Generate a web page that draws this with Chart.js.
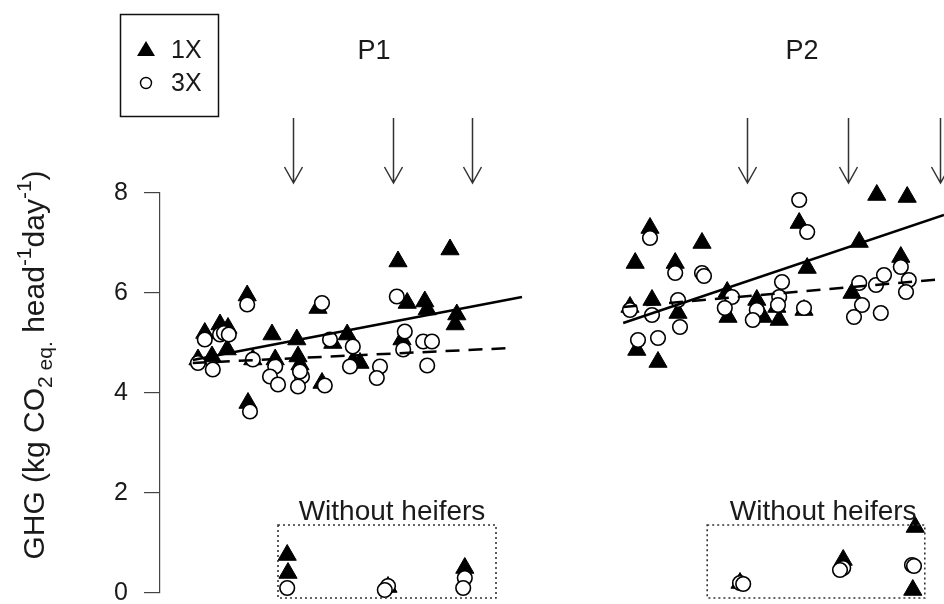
<!DOCTYPE html>
<html>
<head>
<meta charset="utf-8">
<script src="https://cdn.jsdelivr.net/npm/chart.js@4/dist/chart.umd.min.js"></script>
<style>
  html, body { margin: 0; padding: 0; background: #fff; }
  canvas { display: block; }
</style>
</head>
<body>
<canvas id="c" width="944" height="604"></canvas>
<script>
// Days on the x axis, GHG (kg CO2 eq. per head per day) on the y axis
const yTicks = [0, 2, 4, 6, 8];

// Milking once a day (1X) – filled triangles
const oneX_day = [11.2, 15, 17, 21.8, 16.8, 13, 9.5, 22, 28, 23.2, 28.8, 34.2, 34.5, 35, 40.5, 39.5, 43.2, 46.8, 48.2, 50,
                  59.5, 61.8, 60.5, 66.2, 66.8, 72.5, 74.2, 73.8,
                  122.5, 135.5, 118.8, 128.8, 123, 117.5, 129.5, 119.2, 124.5, 142, 141.8, 149.2, 150.8, 154.2, 154.8,
                  159.8, 161.8, 161, 173, 174.8, 181, 179.2, 186.8, 185.2];
const oneX_ghg = [5.2, 5.37, 5.3, 5.95, 4.87, 4.73, 4.67, 3.8, 5.17, 4.67, 4.67, 5.07, 4.73, 4.57, 4.2, 5.7, 5.0, 5.17, 4.63, 4.6,
                  6.63, 5.8, 5.07, 5.83, 5.67, 6.87, 5.57, 5.37,
                  7.3, 7.0, 6.6, 6.6, 5.86, 5.72, 5.6, 4.86, 4.62, 5.52, 6.02, 5.86, 5.52, 5.72, 5.46,
                  7.4, 6.5, 5.66, 6.0, 7.02, 8.36, 7.96, 7.92, 6.72];

// Milking three times a day (3X) – open circles
const threeX_day = [11.2, 9.5, 13.2, 15, 16, 17.2, 21.8, 22.5, 23.2, 28.8, 27.5, 29.5, 35.5, 34.5, 35, 40.5, 41.2, 42.5,
                    48.2, 47.5, 55, 54.2, 61.2, 59.2, 60.8, 65.8, 68, 66.8,
                    122.5, 128.8, 135.5, 136, 123, 117.5, 129.5, 130, 119.5, 124.5, 143, 141.2, 149.2, 148.2, 155.5,
                    154.8, 154.5, 161, 159.8, 161.8, 174.8, 175.5, 173.5, 180.2, 179, 181, 185.2, 187.2, 186.5];
const threeX_ghg = [5.07, 4.6, 4.47, 5.17, 5.2, 5.17, 5.77, 3.63, 4.67, 4.53, 4.33, 4.17, 4.33, 4.13, 4.43, 5.8, 4.15, 5.07,
                    4.93, 4.53, 4.53, 4.3, 5.23, 5.93, 4.87, 5.03, 5.03, 4.55,
                    7.1, 6.4, 6.4, 6.34, 5.56, 5.66, 5.86, 5.32, 5.06, 5.1, 5.92, 5.7, 5.66, 5.46, 6.22,
                    5.92, 5.76, 5.7, 7.86, 7.22, 6.2, 5.76, 5.52, 5.6, 6.16, 6.36, 6.52, 6.26, 6.02];

// Emissions without heifers
const noHeifer1X_day = [31.8, 32, 57, 76.2, 145, 170.8, 188.8, 188.2];
const noHeifer1X_ghg = [0.76, 0.4, 0.12, 0.5, 0.2, 0.66, 1.32, 0.06];
const noHeifer3X_day = [31.8, 57, 56.2, 76.2, 75.8, 145, 145.8, 170.8, 170, 188, 188.5];
const noHeifer3X_ghg = [0.1, 0.14, 0.06, 0.3, 0.1, 0.2, 0.18, 0.5, 0.46, 0.56, 0.54];

// Fitted trends per period: [start day, end day], [start GHG, end GHG]
const trendDays  = { P1: [8.2, 90.5], P2: [115.8, 196] };
const trend1X    = { P1: [4.66, 5.92], P2: [5.4, 7.56] };
const trend3X    = { P1: [4.6, 4.9],   P2: [5.72, 6.28] };
const trend3XDays = { P1: [8.2, 87.5], P2: [115.8, 196] };

// Period names and marker arrows
const periodNames = ['P1', 'P2'];
const periodLabelDay = [53.5, 160.5];
const arrowDays = [33.2, 58.2, 78, 146.8, 172, 195];
const heiferBoxDays = [[29.5, 84], [136.8, 191.2]];
const heiferLabelDay = [58, 165.8];
const heiferLabel = 'Without heifers';

const pts = (xs, ys) => xs.map((x, i) => ({ x, y: ys[i] }));
const seg = (xs, ys) => [{ x: xs[0], y: ys[0] }, { x: xs[1], y: ys[1] }];

const FONT = '"Liberation Sans", Arial, sans-serif';
const INK = '#1a1a1a';

const tri = { type: 'scatter', pointStyle: 'triangle', pointRadius: 10.5, backgroundColor: '#000', borderColor: '#000', borderWidth: 1, clip: false, order: 3 };
const circ = { type: 'scatter', pointStyle: 'circle', pointRadius: 7.3, backgroundColor: '#fff', borderColor: '#000', borderWidth: 1.6, clip: false, order: 2 };
const solid = { type: 'line', borderColor: '#000', borderWidth: 2.5, pointRadius: 0, fill: false, clip: false, order: 1 };
const dashed = Object.assign({}, solid, { borderDash: [14, 9] });

const datasets = [
  Object.assign({ label: '1X', data: pts(oneX_day, oneX_ghg) }, tri),
  Object.assign({ label: '1X without heifers', data: pts(noHeifer1X_day, noHeifer1X_ghg) }, tri),
  Object.assign({ label: '3X', data: pts(threeX_day, threeX_ghg) }, circ),
  Object.assign({ label: '3X without heifers', data: pts(noHeifer3X_day, noHeifer3X_ghg) }, circ),
];
periodNames.forEach(p => {
  datasets.push(Object.assign({ label: '1X trend ' + p, data: seg(trendDays[p], trend1X[p]) }, solid));
  datasets.push(Object.assign({ label: '3X trend ' + p, data: seg(trend3XDays[p], trend3X[p]) }, dashed));
});

const decorations = {
  id: 'decorations',
  afterDraw(chart) {
    const { ctx, scales: { x, y } } = chart;
    ctx.save();

    // arrows above each period
    ctx.strokeStyle = '#333';
    ctx.lineWidth = 1.5;
    const aTop = y.getPixelForValue(9.5), aBot = y.getPixelForValue(8.2);
    arrowDays.forEach(d => {
      const px = Math.round(x.getPixelForValue(d)) + 0.5;
      ctx.beginPath();
      ctx.moveTo(px, aTop); ctx.lineTo(px, aBot);
      ctx.moveTo(px - 9, aBot - 16); ctx.lineTo(px, aBot); ctx.lineTo(px + 9, aBot - 16);
      ctx.stroke();
    });

    // period names
    ctx.fillStyle = INK;
    ctx.font = '27px ' + FONT;
    ctx.textAlign = 'center';
    ctx.textBaseline = 'middle';
    periodNames.forEach((p, i) => ctx.fillText(p, x.getPixelForValue(periodLabelDay[i]), y.getPixelForValue(10.82)));

    // dotted boxes around the "without heifers" values
    ctx.strokeStyle = '#333';
    ctx.lineWidth = 1.6;
    ctx.setLineDash([2, 3]);
    heiferBoxDays.forEach(([a, b]) => {
      const l = x.getPixelForValue(a), r = Math.min(x.getPixelForValue(b), 943);
      const t = y.getPixelForValue(1.36), btm = y.getPixelForValue(-0.1);
      ctx.strokeRect(l, t, r - l, btm - t);
    });
    ctx.setLineDash([]);
    ctx.font = '28px ' + FONT;
    heiferLabelDay.forEach(d => {
      ctx.fillText(heiferLabel, x.getPixelForValue(d), y.getPixelForValue(1.62));
    });

    // legend
    ctx.strokeStyle = '#111';
    ctx.lineWidth = 1.5;
    ctx.strokeRect(120.5, 14.5, 98, 102);
    ctx.fillStyle = '#000';
    ctx.beginPath();
    ctx.moveTo(146, 41); ctx.lineTo(155, 56); ctx.lineTo(137, 56); ctx.closePath();
    ctx.fill();
    ctx.beginPath();
    ctx.arc(146, 83, 5.5, 0, Math.PI * 2);
    ctx.lineWidth = 1.4;
    ctx.strokeStyle = '#000';
    ctx.stroke();
    ctx.fillStyle = INK;
    ctx.font = '25px ' + FONT;
    ctx.textAlign = 'left';
    ctx.fillText('1X', 171, 51);
    ctx.fillText('3X', 171, 84);

    // rotated y-axis title with sub- and superscripts
    const parts = [
      ['GHG (kg CO', 0], ['2 eq.', 1], [' head', 0], ['-1', -1], ['day', 0], ['-1', -1], [')', 0]
    ];
    const big = 30, small = 21;
    let total = 0;
    parts.forEach(([t, s]) => { ctx.font = (s ? small : big) + 'px ' + FONT; total += ctx.measureText(t).width; });
    ctx.translate(44, 365);
    ctx.rotate(-Math.PI / 2);
    ctx.textBaseline = 'alphabetic';
    let cx = -total / 2;
    parts.forEach(([t, s]) => {
      ctx.font = (s ? small : big) + 'px ' + FONT;
      const dy = s === 1 ? 8 : (s === -1 ? -13 : 0);
      ctx.fillText(t, cx, dy);
      cx += ctx.measureText(t).width;
    });
    ctx.restore();
  }
};

new Chart(document.getElementById('c'), {
  type: 'scatter',
  data: { datasets },
  options: {
    responsive: false,
    animation: false,
    events: [],
    layout: { autoPadding: false, padding: { top: 193, bottom: 11, left: 0, right: 0 } },
    plugins: { legend: { display: false }, tooltip: { enabled: false } },
    scales: {
      x: { type: 'linear', min: 0, max: 196, display: false },
      y: {
        min: 0, max: 8,
        afterBuildTicks: s => { s.ticks = yTicks.map(v => ({ value: v })); },
        afterFit: s => { s.width = 160; s.paddingTop = 0; s.paddingBottom = 0; },
        ticks: { color: INK, font: { family: FONT, size: 25 }, padding: 16 },
        grid: { drawOnChartArea: false, drawTicks: true, tickLength: 16, color: '#444', lineWidth: 1.2 },
        border: { display: true, color: '#444', width: 1.2 }
      }
    }
  },
  plugins: [decorations]
});
</script>
</body>
</html>
